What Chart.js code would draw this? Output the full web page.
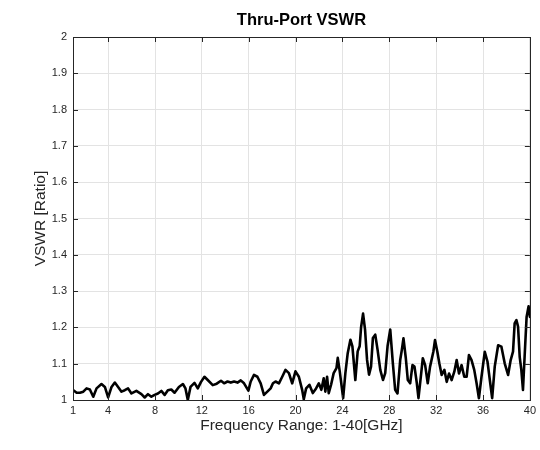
<!DOCTYPE html>
<html>
<head>
<meta charset="utf-8">
<script src="https://cdn.jsdelivr.net/npm/chart.js@4.4.1/dist/chart.umd.min.js"></script>
<style>
  html, body { margin: 0; padding: 0; background: #fff; }
  #wrap { width: 540px; height: 450px; }
</style>
</head>
<body>
<div id="wrap"><canvas id="c" width="540" height="450"></canvas></div>
<script>
// frequency points (GHz)
const freq = [
  1.03, 1.31, 1.59, 1.88, 2.16, 2.44, 2.73, 3.01, 3.43, 3.72, 4.0, 4.29, 4.57, 4.85, 5.14, 5.42,
  5.7, 5.99, 6.41, 6.84, 7.12, 7.4, 7.69, 7.97, 8.25, 8.54, 8.82, 9.1, 9.39, 9.67, 10.04, 10.38,
  10.6, 10.8, 11.03, 11.37, 11.65, 11.93, 12.22, 12.5, 12.93, 13.27, 13.63, 13.9, 14.19, 14.47,
  14.75, 15.04, 15.32, 15.6, 15.97, 16.17, 16.45, 16.74, 17.02, 17.3, 17.59, 17.87, 18.07, 18.29,
  18.58, 18.86, 19.14, 19.43, 19.71, 19.99, 20.28, 20.56, 20.7, 20.9, 21.18, 21.47, 21.75, 21.98,
  22.2, 22.4, 22.54, 22.69, 22.83, 23.03, 23.25, 23.49, 23.6, 23.77, 24.06, 24.25, 24.45, 24.68,
  24.85, 25.1, 25.3, 25.47, 25.59, 25.76, 25.93, 26.1, 26.27, 26.44, 26.6, 26.8, 27.0, 27.23,
  27.46, 27.65, 27.85, 28.08, 28.3, 28.5, 28.7, 28.93, 29.07, 29.21, 29.41, 29.58, 29.78, 29.98,
  30.15, 30.35, 30.49, 30.69, 30.86, 31.06, 31.28, 31.48, 31.76, 31.9, 32.1, 32.27, 32.47, 32.7,
  32.9, 33.1, 33.32, 33.55, 33.75, 33.95, 34.17, 34.4, 34.6, 34.8, 35.02, 35.25, 35.45, 35.65,
  35.87, 36.15, 36.38, 36.58, 36.78, 37.0, 37.29, 37.57, 37.85, 38.14, 38.36, 38.56, 38.7, 38.85,
  38.99, 39.13, 39.27, 39.41, 39.55, 39.72, 39.89, 40.0
];

const vswr = [
  1.027, 1.020, 1.020, 1.023, 1.032, 1.029, 1.009, 1.032, 1.044, 1.036, 1.007, 1.036, 1.048, 1.036, 1.023, 1.027,
  1.032, 1.018, 1.025, 1.016, 1.007, 1.016, 1.009, 1.014, 1.018, 1.025, 1.014, 1.027, 1.029, 1.020, 1.036, 1.044,
  1.032, 1.000, 1.036, 1.047, 1.032, 1.050, 1.064, 1.055, 1.041, 1.045, 1.053, 1.046, 1.051, 1.048,
  1.051, 1.048, 1.054, 1.046, 1.026, 1.051, 1.069, 1.064, 1.046, 1.014, 1.023, 1.032, 1.046, 1.051,
  1.046, 1.064, 1.083, 1.074, 1.046, 1.079, 1.064, 1.028, 1.002, 1.032, 1.042, 1.019, 1.032, 1.046,
  1.028, 1.060, 1.023, 1.064, 1.019, 1.042, 1.074, 1.088, 1.116, 1.079, 1.005, 1.074, 1.129, 1.166,
  1.148, 1.055, 1.134, 1.148, 1.200, 1.238, 1.194, 1.111, 1.070, 1.092, 1.171, 1.180, 1.138, 1.083,
  1.055, 1.074, 1.148, 1.194, 1.102, 1.028, 1.018, 1.110, 1.138, 1.170, 1.115, 1.055, 1.046, 1.096,
  1.092, 1.046, 1.005, 1.064, 1.115, 1.096, 1.046, 1.092, 1.133, 1.165, 1.133, 1.101, 1.069, 1.083,
  1.050, 1.073, 1.055, 1.078, 1.110, 1.073, 1.096, 1.064, 1.064, 1.124, 1.110, 1.083, 1.046, 1.005,
  1.064, 1.133, 1.106, 1.055, 1.005, 1.092, 1.151, 1.147, 1.101, 1.069, 1.110, 1.133, 1.211, 1.220,
  1.202, 1.119, 1.083, 1.028, 1.119, 1.229, 1.258, 1.229
];

const xTicks = [1, 4, 8, 12, 16, 20, 24, 28, 32, 36, 40];
const yTicks = [1, 1.1, 1.2, 1.3, 1.4, 1.5, 1.6, 1.7, 1.8, 1.9, 2];

const titleText = 'Thru-Port VSWR';
const xLabel = 'Frequency Range: 1-40[GHz]';
const yLabel = 'VSWR [Ratio]';

const FONT = '"Liberation Sans", Arial, Helvetica, sans-serif';
const INK = '#262626';

// matlab style box, inward ticks and title over the axes
const axesBox = {
    id: 'axesBox',
    afterDraw(chart) {
        const {ctx, chartArea: a, scales} = chart;
        ctx.save();
        ctx.strokeStyle = INK;
        ctx.lineWidth = 1;
        ctx.beginPath();
        xTicks.forEach(v => {
            const px = Math.round(scales.x.getPixelForValue(v)) + 0.5;
            ctx.moveTo(px, a.bottom); ctx.lineTo(px, a.bottom - 5);
            ctx.moveTo(px, a.top); ctx.lineTo(px, a.top + 5);
        });
        yTicks.forEach(v => {
            const py = Math.round(scales.y.getPixelForValue(v)) + 0.5;
            ctx.moveTo(a.left, py); ctx.lineTo(a.left + 5, py);
            ctx.moveTo(a.right, py); ctx.lineTo(a.right - 5, py);
        });
        ctx.stroke();
        ctx.strokeRect(Math.round(a.left) + 0.5, Math.round(a.top) + 0.5,
            Math.round(a.right - a.left), Math.round(a.bottom - a.top));

        ctx.fillStyle = '#000';
        ctx.font = 'bold 16.5px ' + FONT;
        ctx.textAlign = 'center';
        ctx.textBaseline = 'middle';
        ctx.fillText(titleText, (a.left + a.right) / 2, 20);
        ctx.restore();
    }
};

new Chart(document.getElementById('c').getContext('2d'), {
    type: 'line',
    data: {
        datasets: [{
            data: freq.map((f, i) => ({x: f, y: vswr[i]})),
            borderColor: '#000',
            borderWidth: 2.6,
            borderJoinStyle: 'round',
            borderCapStyle: 'round',
            pointRadius: 0,
            tension: 0,
            fill: false
        }]
    },
    plugins: [axesBox],
    options: {
        responsive: false,
        animation: false,
        events: [],
        layout: {
            padding: {top: 37, right: 8, left: 0, bottom: 0}
        },
        plugins: {
            legend: {display: false},
            tooltip: {enabled: false}
        },
        scales: {
            x: {
                type: 'linear',
                min: 1,
                max: 40,
                afterBuildTicks: scale => {
                    scale.ticks = xTicks.map(v => ({value: v}));
                },
                afterFit: scale => { scale.height = 50; },
                grid: {color: '#e3e3e3', drawTicks: false},
                border: {display: false},
                ticks: {
                    color: INK,
                    font: {family: FONT, size: 11},
                    padding: 4,
                    maxRotation: 0,
                    autoSkip: false
                },
                title: {
                    display: true,
                    text: xLabel,
                    color: INK,
                    font: {family: FONT, size: 15.5},
                    padding: {top: 0, bottom: 15}
                }
            },
            y: {
                min: 1,
                max: 2,
                afterBuildTicks: scale => {
                    scale.ticks = yTicks.map(v => ({value: v}));
                },
                afterFit: scale => { scale.width = 73; },
                grid: {color: '#e3e3e3', drawTicks: false},
                border: {display: false},
                ticks: {
                    color: INK,
                    font: {family: FONT, size: 11},
                    padding: 6,
                    autoSkip: false,
                    callback: v => String(Number(v.toFixed(1)))
                },
                title: {
                    display: true,
                    text: yLabel,
                    color: INK,
                    font: {family: FONT, size: 15.5},
                    padding: {top: 31, bottom: 0}
                }
            }
        }
    }
});
</script>
</body>
</html>
